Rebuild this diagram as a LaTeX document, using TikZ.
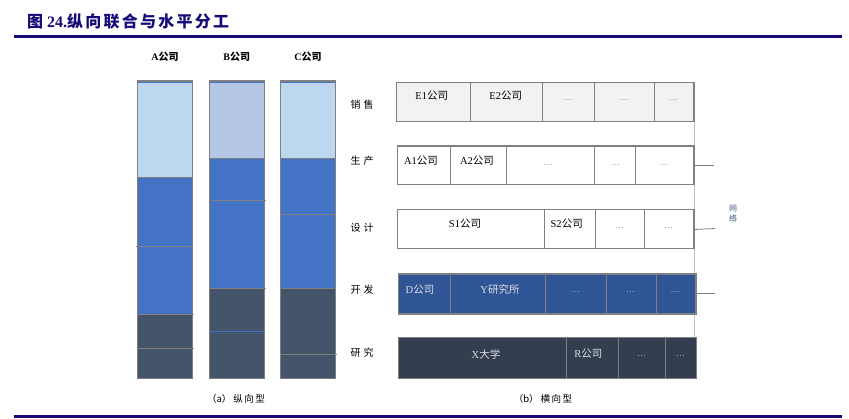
\documentclass[tikz,border=0pt]{standalone}
\usepackage{fontspec}
\setmainfont{Liberation Serif}
\newfontfamily\cjk{Noto Sans CJK SC}
\newfontfamily\cjkt[LetterSpace=14]{Noto Sans CJK SC}
\newcommand{\zh}[1]{{\cjk #1}}
\definecolor{titleblue}{HTML}{160A78}
\definecolor{lightA}{HTML}{BDD7EE}
\definecolor{lightB}{HTML}{B4C7E7}
\definecolor{midblue}{HTML}{4472C4}
\definecolor{darkslate}{HTML}{44546A}
\definecolor{bordergray}{HTML}{808080}
\definecolor{rowgray}{HTML}{F2F2F2}
\definecolor{rowblue}{HTML}{2F5597}
\definecolor{rowdark}{HTML}{333F50}
\definecolor{netgray}{HTML}{BFBFBF}
\definecolor{dotgray}{HTML}{7F7F7F}
\tikzset{
  colborder/.style={draw=bordergray, line width=1.5pt},
  segline/.style={draw=bordergray, line width=1pt},
  rowbox/.style={draw=bordergray, line width=1.4pt},
  divline/.style={draw=bordergray, line width=0.8pt},
  txt/.style={inner sep=0pt, font=\fontsize{10.5}{12}\selectfont},
  wtxt/.style={txt, text=white!88!black},
  dots/.style={inner sep=0pt, font=\fontsize{9}{10}\selectfont, text=dotgray},
  wdots/.style={dots, text=white!80!black},
  lbl/.style={inner sep=0pt, font=\fontsize{10}{12}\selectfont},
  netline/.style={draw=netgray, line width=0.9pt},
  tick/.style={draw=bordergray, line width=0.8pt},
}
\begin{document}
\begin{tikzpicture}[x=1pt,y=-1pt]
\useasboundingbox (0,0) rectangle (849,418);
% title and rules
\node[anchor=west, inner sep=0pt, text=titleblue, font=\bfseries\fontsize{16}{18}\selectfont] (title) at (27,21) {{\cjkt 图} 24.{\cjkt 纵向联合与水平分工}};
\draw[titleblue, line width=2.2pt] (14,36.5) -- (842,36.5);
\draw[titleblue, line width=2.2pt] (14,416.5) -- (842,416.5);

% ---------- (a) columns ----------
\node[lbl, font=\bfseries\fontsize{10}{12}\selectfont] (la) at (164.9,57) {A\zh{公司}};
\node[lbl, font=\bfseries\fontsize{10}{12}\selectfont] (lb) at (236.8,57) {B\zh{公司}};
\node[lbl, font=\bfseries\fontsize{10}{12}\selectfont] (lc) at (308,57) {C\zh{公司}};

% column A
\fill[lightA] (137.3,81) rectangle (192.5,177.7);
\fill[midblue] (137.3,177.7) rectangle (192.5,314);
\fill[darkslate] (137.3,314) rectangle (192.5,378.7);
\draw[segline] (137.3,177.7) -- (192.5,177.7);
\draw[segline] (135.5,246.3) -- (192.5,246.3);
\draw[segline] (137.3,314) -- (193.5,314);
\draw[segline] (137.3,348.7) -- (193.5,348.7);
\draw[midblue, line width=1pt] (137.8,82.3) -- (192,82.3);
\draw[colborder] (137.3,81) rectangle (192.5,378.7);

% column B
\fill[lightB] (209.3,81) rectangle (264.3,158.3);
\fill[midblue] (209.3,158.3) rectangle (264.3,288.3);
\fill[darkslate] (209.3,288.3) rectangle (264.3,378.7);
\draw[segline] (209.3,158.3) -- (264.3,158.3);
\draw[segline] (209.3,200.7) -- (265.5,200.7);
\draw[segline] (209.3,288.3) -- (265.5,288.3);
\draw[midblue, line width=1.2pt] (209.3,331.7) -- (264.3,331.7);
\draw[midblue, line width=1pt] (209.8,82.3) -- (263.8,82.3);
\draw[colborder] (209.3,81) rectangle (264.3,378.7);

% column C
\fill[lightA] (280.3,81) rectangle (335.7,158.3);
\fill[midblue] (280.3,158.3) rectangle (335.7,288.3);
\fill[darkslate] (280.3,288.3) rectangle (335.7,378.7);
\draw[segline] (280.3,158.3) -- (335.7,158.3);
\draw[segline] (280.3,214) -- (335.7,214);
\draw[segline] (280.3,288.3) -- (335.7,288.3);
\draw[segline] (280.3,354) -- (337,354);
\draw[midblue, line width=1pt] (280.8,82.3) -- (335.2,82.3);
\draw[colborder] (280.3,81) rectangle (335.7,378.7);

\node[lbl, font=\fontsize{9.5}{11}\selectfont] (capa) at (236,399) {\zh{（a）\hspace{2pt}纵\hspace{1.5pt}向\hspace{1.5pt}型}};

% ---------- (b) rows ----------
\node[lbl] (r1) at (362,105) {\zh{销\hspace{3pt}售}};
\node[lbl] (r2) at (362,160.7) {\zh{生\hspace{3pt}产}};
\node[lbl] (r3) at (362,228) {\zh{设\hspace{3pt}计}};
\node[lbl] (r4) at (362,290) {\zh{开\hspace{3pt}发}};
\node[lbl] (r5) at (362,352.7) {\zh{研\hspace{3pt}究}};

% network line
\coordinate (ntop) at (694,121.7);
\coordinate (nbot) at (694,337.7);
\draw[netline] (ntop) -- (nbot);
\coordinate (t1a) at (694,165); \coordinate (t1b) at (714,165);
\coordinate (t2a) at (694,229.5); \coordinate (t2b) at (715,228.5);
\coordinate (t3a) at (696,293); \coordinate (t3b) at (715,293);
\draw[tick] (t1a) -- (t1b);
\draw[tick] (t2a) -- (t2b);
\draw[tick] (t3a) -- (t3b);
\node[inner sep=0pt, font=\fontsize{8}{9}\selectfont, text=darkslate!80!midblue, align=center] (net) at (733,214) {\zh{网}\\[1pt]\zh{络}};

% row 1 sales
\filldraw[fill=rowgray, draw=none] (396.7,82.3) rectangle (694,121.7);
\foreach \x in {470.7,542.3,594.7,654.3} \draw[divline] (\x,82.3) -- (\x,121.7);
\draw[rowbox] (396.7,82.3) rectangle (694,121.7);
\node[txt] (e1) at (431.7,96) {E1\zh{公司}};
\node[txt] (e2) at (505.7,96) {E2\zh{公司}};
\node[dots] (e3) at (568,100) {\ldots};
\node[dots] (e4) at (624,100) {\ldots};
\node[dots] (e5) at (673.3,100) {\ldots};

% row 2 production
\foreach \x in {450.3,506.3,594.7,635.7} \draw[divline] (\x,146) -- (\x,184.3);
\draw[rowbox] (397.3,146) rectangle (694,184.3);
\node[txt] (a1) at (421,160.7) {A1\zh{公司}};
\node[txt] (a2) at (477,160.7) {A2\zh{公司}};
\node[dots] (a3) at (548,165) {\ldots};
\node[dots] (a4) at (615,165) {\ldots};
\node[dots] (a5) at (664,165) {\ldots};

% row 3 design
\foreach \x in {544.7,595.3,644.3} \draw[divline] (\x,209.3) -- (\x,248.3);
\draw[rowbox] (397.3,209.3) rectangle (694,248.3);
\node[txt] (s1) at (465,224) {S1\zh{公司}};
\node[txt] (s2) at (566.7,224) {S2\zh{公司}};
\node[dots] (s3) at (619.3,228) {\ldots};
\node[dots] (s4) at (668.3,228) {\ldots};

% row 4 development
\fill[rowblue] (398.7,274) rectangle (696,314);
\foreach \x in {450.3,545.7,606.7,656.3} \draw[divline] (\x,274) -- (\x,314);
\draw[rowbox] (398.7,274) rectangle (696,314);
\node[wtxt] (d1) at (420,289.3) {D\zh{公司}};
\node[wtxt] (d2) at (500,289.3) {Y\zh{研究所}};
\node[wdots] (d3) at (575,292) {\ldots};
\node[wdots] (d4) at (630.7,292) {\ldots};
\node[wdots] (d5) at (675,292) {\ldots};

% row 5 research
\fill[rowdark] (398.7,337.7) rectangle (696.7,378.3);
\foreach \x in {566.7,618.3,665.7} \draw[divline] (\x,337.7) -- (\x,378.3);
\draw[rowbox] (398.7,337.7) rectangle (696.7,378.3);
\node[wtxt] (x1) at (486,354) {X\zh{大学}};
\node[wtxt] (x2) at (588.3,354) {R\zh{公司}};
\node[wdots] (x3) at (641.7,356) {\ldots};
\node[wdots] (x4) at (680.7,356) {\ldots};

\node[lbl, font=\fontsize{9.5}{11}\selectfont] (capb) at (543,399) {\zh{（b）\hspace{2pt}横\hspace{1.5pt}向\hspace{1.5pt}型}};
\end{tikzpicture}
\end{document}
